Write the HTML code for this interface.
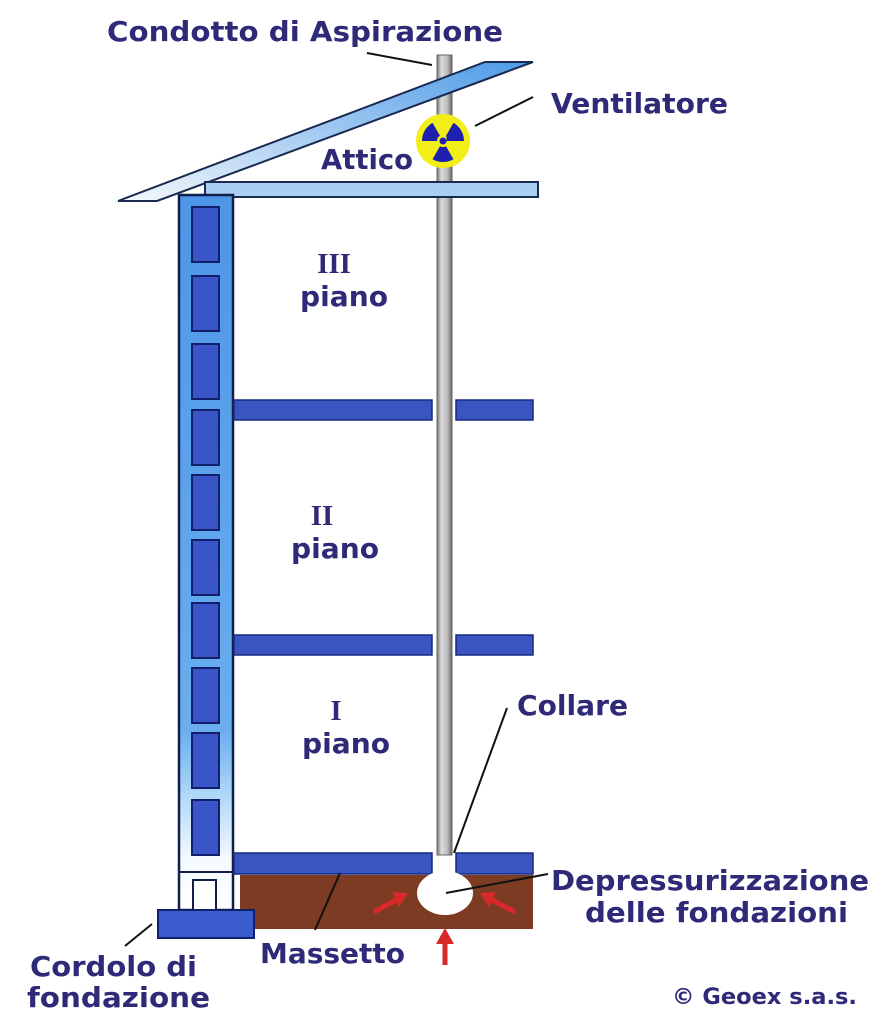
<!DOCTYPE html>
<html><head><meta charset="utf-8"><style>
html,body{margin:0;padding:0;background:#fff;}
svg{display:block}
text{font-family:"DejaVu Sans","Liberation Sans",sans-serif;font-weight:bold;fill:#2e2a78;font-size:28px}
</style></head><body>
<svg width="885" height="1024" viewBox="0 0 885 1024" xmlns="http://www.w3.org/2000/svg">
<defs>
<linearGradient id="wall" x1="0" y1="0" x2="0" y2="1">
<stop offset="0" stop-color="#4d95e6"/><stop offset="0.75" stop-color="#6aaef0"/><stop offset="0.85" stop-color="#b8dcf8"/><stop offset="0.93" stop-color="#f4f9fe"/><stop offset="1" stop-color="#fff"/>
</linearGradient>
<linearGradient id="roof" x1="0" y1="1" x2="1" y2="0">
<stop offset="0" stop-color="#f4f8fc"/><stop offset="1" stop-color="#4e9be6"/>
</linearGradient>
<linearGradient id="pipe" x1="0" x2="1">
<stop offset="0" stop-color="#777"/><stop offset="0.3" stop-color="#ddd"/><stop offset="0.7" stop-color="#bbb"/><stop offset="1" stop-color="#666"/>
</linearGradient>
</defs>

<rect x="240" y="875" width="293" height="54" fill="#7c3b22"/>
<rect x="437" y="55" width="15" height="800" fill="url(#pipe)" stroke="#666" stroke-width="1"/>
<polygon points="118,201 157,201 533,62 485,62" fill="url(#roof)" stroke="#1a2a50" stroke-width="2"/>
<rect x="205" y="182" width="333" height="15" fill="#a9d0f2" stroke="#1a2a50" stroke-width="2"/>
<rect x="179" y="195" width="54" height="715" fill="url(#wall)" stroke="#0f1f4a" stroke-width="2.5"/>
<g fill="#3a55c8" stroke="#0f1f6a" stroke-width="2">
<rect x="192" y="207" width="27" height="55"/>
<rect x="192" y="276" width="27" height="55"/>
<rect x="192" y="344" width="27" height="55"/>
<rect x="192" y="410" width="27" height="55"/>
<rect x="192" y="475" width="27" height="55"/>
<rect x="192" y="540" width="27" height="55"/>
<rect x="192" y="603" width="27" height="55"/>
<rect x="192" y="668" width="27" height="55"/>
<rect x="192" y="733" width="27" height="55"/>
<rect x="192" y="800" width="27" height="55"/>
</g>
<line x1="179" y1="872" x2="233" y2="872" stroke="#0f1f4a" stroke-width="2"/>
<rect x="193" y="880" width="23" height="32" fill="#fff" stroke="#0f1f4a" stroke-width="2"/>
<rect x="158" y="910" width="96" height="28" fill="#3a5ccc" stroke="#0f1f6a" stroke-width="2"/>
<g fill="#3a55c0" stroke="#152a80" stroke-width="1.5">
<rect x="234" y="400" width="198" height="20"/><rect x="456" y="400" width="77" height="20"/>
<rect x="234" y="635" width="198" height="20"/><rect x="456" y="635" width="77" height="20"/>
<rect x="234" y="853" width="198" height="21"/><rect x="456" y="853" width="77" height="21"/>
</g>
<ellipse cx="445" cy="893" rx="28" ry="22" fill="#fff"/>
<g stroke="#d8282a" stroke-width="5" fill="#d8282a">
<line x1="374" y1="912" x2="398" y2="899"/>
<line x1="515" y1="912" x2="490" y2="899"/>
<line x1="445" y1="965" x2="445" y2="940"/>
</g>
<g fill="#d8282a">
<polygon points="408,893 392,892 399,907"/>
<polygon points="480,893 496,892 489,907"/>
<polygon points="445,928 436,944 454,944"/>
</g>
<circle cx="443" cy="141" r="27" fill="#f2ee18"/>
<g fill="#2020b0">
<path d="M446,141 L464,141 A21,21 0 0 0 453.5,122.8 L446,135.8 A6,6 0 0 1 446,141 Z"/>
<path d="M437,141 L422,141 A21,21 0 0 1 432.5,122.8 L440,135.8 A6,6 0 0 0 437,141 Z"/>
<path d="M446,146.2 L453.5,159.2 A21,21 0 0 1 432.5,159.2 L440,146.2 A6,6 0 0 0 446,146.2 Z"/>
<circle cx="443" cy="141" r="3.5"/>
</g>
<g stroke="#111" stroke-width="2">
<line x1="367" y1="53" x2="432" y2="65"/>
<line x1="533" y1="97" x2="475" y2="126"/>
<line x1="507" y1="708" x2="454" y2="853"/>
<line x1="548" y1="874" x2="446" y2="893"/>
<line x1="340" y1="873" x2="315" y2="930"/>
<line x1="152" y1="924" x2="125" y2="946"/>
</g>
<text x="107" y="41" textLength="396" lengthAdjust="spacingAndGlyphs">Condotto di Aspirazione</text>
<text x="551" y="113" textLength="177" lengthAdjust="spacingAndGlyphs">Ventilatore</text>
<text x="321" y="169" textLength="92" lengthAdjust="spacingAndGlyphs">Attico</text>
<text x="334" y="273" text-anchor="middle" style="font-family:'Liberation Serif',serif;font-size:29px">III</text>
<text x="300" y="306" textLength="88" lengthAdjust="spacingAndGlyphs">piano</text>
<text x="322" y="525" text-anchor="middle" style="font-family:'Liberation Serif',serif;font-size:29px">II</text>
<text x="291" y="558" textLength="88" lengthAdjust="spacingAndGlyphs">piano</text>
<text x="336" y="720" text-anchor="middle" style="font-family:'Liberation Serif',serif;font-size:29px">I</text>
<text x="302" y="753" textLength="88" lengthAdjust="spacingAndGlyphs">piano</text>
<text x="517" y="715" textLength="111" lengthAdjust="spacingAndGlyphs">Collare</text>
<text x="551" y="890" textLength="318" lengthAdjust="spacingAndGlyphs">Depressurizzazione</text>
<text x="585" y="922" textLength="263" lengthAdjust="spacingAndGlyphs">delle fondazioni</text>
<text x="260" y="963" textLength="145" lengthAdjust="spacingAndGlyphs">Massetto</text>
<text x="30" y="976" textLength="167" lengthAdjust="spacingAndGlyphs">Cordolo di</text>
<text x="27" y="1007" textLength="183" lengthAdjust="spacingAndGlyphs">fondazione</text>
<text x="672" y="1004" style="font-size:22px" textLength="185" lengthAdjust="spacingAndGlyphs">© Geoex s.a.s.</text>
</svg>
</body></html>
